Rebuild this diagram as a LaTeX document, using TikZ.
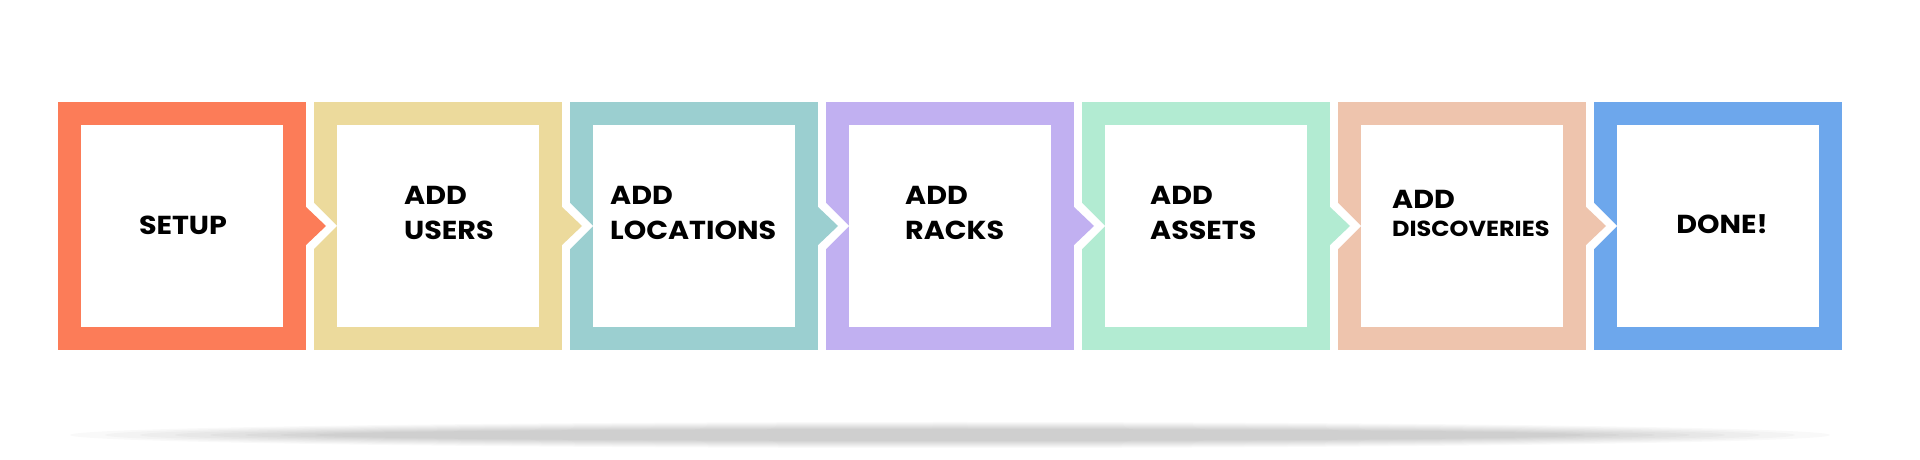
\documentclass[tikz,border=0pt]{standalone}
\usepackage{fontspec}
\setmainfont{Poppins}[FakeStretch=1.1]
\definecolor{cSetup}{HTML}{FC7C58}
\definecolor{cUsers}{HTML}{ECDA9C}
\definecolor{cLocations}{HTML}{9BCFD0}
\definecolor{cRacks}{HTML}{C1B0F1}
\definecolor{cAssets}{HTML}{B2EBD2}
\definecolor{cDiscoveries}{HTML}{EEC4AD}
\definecolor{cDone}{HTML}{6DA7EC}
\tikzset{
  stepbox/.style={draw=#1, line width=23pt, minimum size=225pt, inner sep=0pt},
  steptext/.style={font=\bfseries\fontsize{26}{35}\selectfont, align=left, inner sep=0pt},
}
\begin{document}
\begin{tikzpicture}[x=1pt,y=1pt]
        %% Canvas
        \fill[white] (0,0) rectangle (1920,460);
        \useasboundingbox (0,0) rectangle (1920,460);
        %% Shadow
        \foreach \i in {0,...,7}
            \fill[black,opacity=0.024] (950,25) ellipse ({880-35*\i} and {13-\i});
        %% Frames
        \node[stepbox=cSetup] (setup) at (182,234) {};
        \node[stepbox=cUsers] (users) at (438,234) {};
        \node[stepbox=cLocations] (locations) at (694,234) {};
        \node[stepbox=cRacks] (racks) at (950,234) {};
        \node[stepbox=cAssets] (assets) at (1206,234) {};
        \node[stepbox=cDiscoveries] (discoveries) at (1462,234) {};
        \node[stepbox=cDone] (done) at (1718,234) {};
        %% Notches
        \fill[white] ([yshift=23pt]users.west) -- ++(23,-23) -- ++(-23,-23) -- cycle;
        \fill[white] ([yshift=23pt]locations.west) -- ++(23,-23) -- ++(-23,-23) -- cycle;
        \fill[white] ([yshift=23pt]racks.west) -- ++(23,-23) -- ++(-23,-23) -- cycle;
        \fill[white] ([yshift=23pt]assets.west) -- ++(23,-23) -- ++(-23,-23) -- cycle;
        \fill[white] ([yshift=23pt]discoveries.west) -- ++(23,-23) -- ++(-23,-23) -- cycle;
        \fill[white] ([yshift=23pt]done.west) -- ++(23,-23) -- ++(-23,-23) -- cycle;
        %% Arrows
        \fill[cSetup] ([shift={(-1,20)}]setup.east) -- ++(21,-20) -- ++(-21,-20) -- cycle;
        \fill[cUsers] ([shift={(-1,20)}]users.east) -- ++(21,-20) -- ++(-21,-20) -- cycle;
        \fill[cLocations] ([shift={(-1,20)}]locations.east) -- ++(21,-20) -- ++(-21,-20) -- cycle;
        \fill[cRacks] ([shift={(-1,20)}]racks.east) -- ++(21,-20) -- ++(-21,-20) -- cycle;
        \fill[cAssets] ([shift={(-1,20)}]assets.east) -- ++(21,-20) -- ++(-21,-20) -- cycle;
        \fill[cDiscoveries] ([shift={(-1,20)}]discoveries.east) -- ++(21,-20) -- ++(-21,-20) -- cycle;
        %% Labels
        \node[steptext] (setupText) at (183,235) {SETUP};
        \node[steptext, anchor=base west] (usersText) at (404,220) {ADD\\USERS};
        \node[steptext, anchor=base west] (locationsText) at (610,220) {ADD\\LOCATIONS};
        \node[steptext, anchor=base west] (racksText) at (905,220) {ADD\\RACKS};
        \node[steptext, anchor=base west] (assetsText) at (1150,220) {ADD\\ASSETS};
        \node[steptext, anchor=base west] (discoveriesText) at (1392,223) {ADD\\[-7pt]{\fontsize{21.8}{28}\selectfont DISCOVERIES}};
        \node[steptext] (doneText) at (1722,236) {DONE!};
\end{tikzpicture}
\end{document}
